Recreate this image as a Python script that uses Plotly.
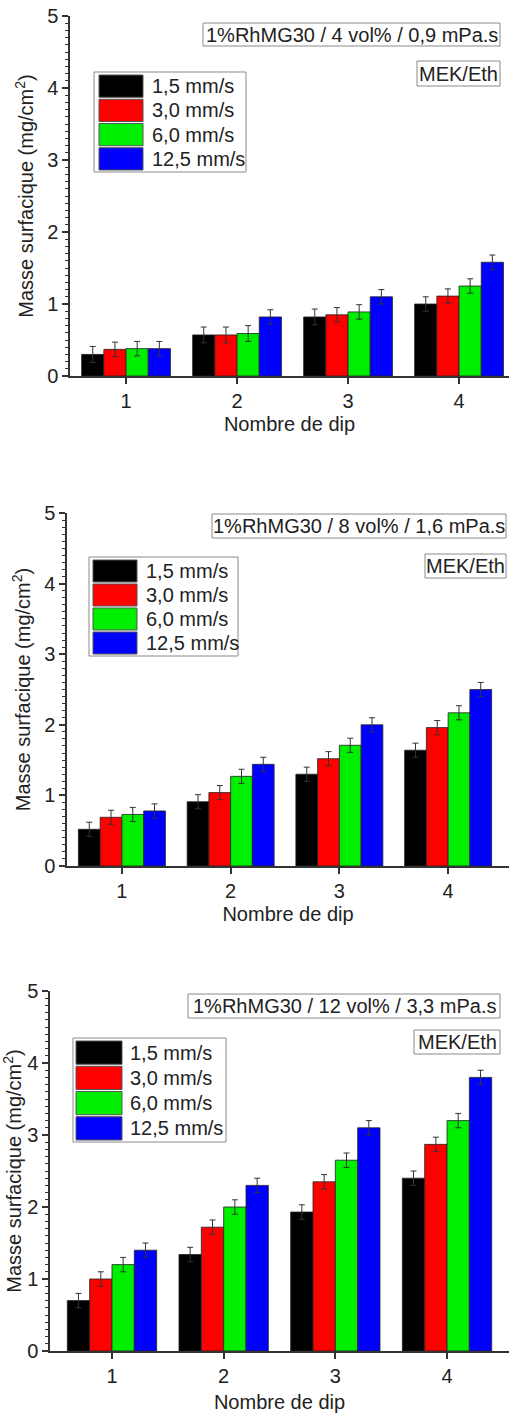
import plotly.graph_objects as go

W, H = 509, 1414
FONT = "Liberation Sans, Arial, sans-serif"
TXT = "#222222"
AX = "#333333"

# ---------------- data ----------------
dips = [1, 2, 3, 4]
speeds = ["1,5 mm/s", "3,0 mm/s", "6,0 mm/s", "12,5 mm/s"]
colors = ["#000000", "#ff0000", "#00ee00", "#0000ff"]

titles = ["1%RhMG30 / 4 vol% / 0,9 mPa.s",
          "1%RhMG30 / 8 vol% / 1,6 mPa.s",
          "1%RhMG30 / 12 vol% / 3,3 mPa.s"]
solvent = "MEK/Eth"

# panel 1 : 4 vol%
p1_v15 = [0.30, 0.57, 0.82, 1.00]
p1_v30 = [0.37, 0.57, 0.85, 1.11]
p1_v60 = [0.38, 0.59, 0.89, 1.25]
p1_v125 = [0.38, 0.82, 1.10, 1.58]
p1_e15 = [0.11, 0.11, 0.11, 0.10]
p1_e30 = [0.10, 0.11, 0.10, 0.10]
p1_e60 = [0.10, 0.11, 0.10, 0.10]
p1_e125 = [0.10, 0.10, 0.10, 0.10]

# panel 2 : 8 vol%
p2_v15 = [0.52, 0.91, 1.30, 1.64]
p2_v30 = [0.69, 1.04, 1.52, 1.96]
p2_v60 = [0.73, 1.27, 1.71, 2.17]
p2_v125 = [0.78, 1.44, 2.00, 2.50]
p2_e15 = [0.10, 0.10, 0.10, 0.10]
p2_e30 = [0.10, 0.10, 0.10, 0.10]
p2_e60 = [0.10, 0.10, 0.10, 0.10]
p2_e125 = [0.10, 0.10, 0.10, 0.10]

# panel 3 : 12 vol%
p3_v15 = [0.70, 1.34, 1.93, 2.40]
p3_v30 = [1.00, 1.72, 2.35, 2.87]
p3_v60 = [1.20, 2.00, 2.65, 3.20]
p3_v125 = [1.40, 2.30, 3.10, 3.80]
p3_e15 = [0.10, 0.10, 0.10, 0.10]
p3_e30 = [0.10, 0.10, 0.10, 0.10]
p3_e60 = [0.10, 0.10, 0.10, 0.10]
p3_e125 = [0.10, 0.10, 0.10, 0.10]

panel_values = [[p1_v15, p1_v30, p1_v60, p1_v125],
                [p2_v15, p2_v30, p2_v60, p2_v125],
                [p3_v15, p3_v30, p3_v60, p3_v125]]
panel_errors = [[p1_e15, p1_e30, p1_e60, p1_e125],
                [p2_e15, p2_e30, p2_e60, p2_e125],
                [p3_e15, p3_e30, p3_e60, p3_e125]]

y_title = "Masse surfacique (mg/cm<sup>2</sup>)"
x_title = "Nombre de dip"

# ---------------- layout geometry (pixels) ----------------
geom = [
    dict(x0=70, x1=509, y0=16, y1=376, xr=[0.495, 4.45], xst=6,
         box1=(203, 500, 23, 46), box2=(417, 500, 61, 86),
         leg=(94, 246, 72, 172), sw=(99, 143), tx=150),
    dict(x0=67, x1=509, y0=513, y1=866, xr=[0.495, 4.56], xst=6,
         box1=(212, 506, 514, 538), box2=(425, 506, 554, 578),
         leg=(89, 238, 557, 656), sw=(93, 137), tx=144),
    dict(x0=50, x1=509, y0=991, y1=1351, xr=[0.445, 4.555], xst=9,
         box1=(188, 500, 994, 1018), box2=(414, 500, 1030, 1054),
         leg=(73, 226, 1038, 1142), sw=(76, 122), tx=128),
]


def fx(p):
    return p / W


def fy(p):
    return 1 - p / H


fig = go.Figure()
shapes = []
annotations = []
layout = {}

for i, g in enumerate(geom):
    k = "" if i == 0 else str(i + 1)
    xa, ya = "x" + k, "y" + k
    for s in range(4):
        fig.add_trace(go.Bar(
            x=dips, y=panel_values[i][s], name=speeds[s],
            marker=dict(color=colors[s], line=dict(color="#222222", width=0.8)),
            error_y=dict(type="data", array=panel_errors[i][s], visible=True,
                         color="#333333", thickness=1, width=3),
            xaxis=xa, yaxis=ya, showlegend=False, offsetgroup=str(s),
        ))
    layout["xaxis" + k] = dict(
        domain=[fx(g["x0"]), fx(g["x1"])], anchor=ya, range=g["xr"],
        automargin=False,
        tickmode="array", tickvals=dips, ticktext=[str(d) for d in dips],
        showline=True, linecolor=AX, linewidth=1.5, ticks="outside",
        ticklen=6, tickcolor=AX, tickwidth=1.5, showgrid=False, zeroline=False,
        tickfont=dict(family=FONT, size=20, color=TXT),
        title=dict(text=x_title, font=dict(family=FONT, size=20, color=TXT),
                   standoff=g["xst"]),
    )
    layout["yaxis" + k] = dict(
        domain=[fy(g["y1"]), fy(g["y0"])], anchor=xa, range=[0, 5],
        automargin=False,
        tickmode="linear", tick0=0, dtick=1,
        showline=True, linecolor=AX, linewidth=1.5, ticks="outside",
        ticklen=6, tickcolor=AX, tickwidth=1.5, showgrid=False, zeroline=False,
        minor=dict(dtick=0.1, ticks="outside", ticklen=3, tickcolor=AX, tickwidth=1),
        tickfont=dict(family=FONT, size=20, color=TXT),
        title=dict(text=y_title, font=dict(family=FONT, size=20, color=TXT), standoff=8),
    )
    # info boxes
    for bx, txt in ((g["box1"], titles[i]), (g["box2"], solvent)):
        shapes.append(dict(type="rect", xref="paper", yref="paper",
                           x0=fx(bx[0]), x1=fx(bx[1]), y0=fy(bx[3]), y1=fy(bx[2]),
                           line=dict(color="#8a8a8a", width=1), fillcolor="white", layer="above"))
        annotations.append(dict(xref="paper", yref="paper",
                                x=fx((bx[0] + bx[1]) / 2), y=fy((bx[2] + bx[3]) / 2),
                                text=txt, showarrow=False, xanchor="center", yanchor="middle",
                                font=dict(family=FONT, size=20, color=TXT)))
    # legend
    lx0, lx1, ly0, ly1 = g["leg"]
    shapes.append(dict(type="rect", xref="paper", yref="paper",
                       x0=fx(lx0), x1=fx(lx1), y0=fy(ly1), y1=fy(ly0),
                       line=dict(color="#8a8a8a", width=1), fillcolor="white", layer="above"))
    rh = (ly1 - ly0 - 3) / 4.0
    for s in range(4):
        r0 = ly0 + 2 + s * rh
        shapes.append(dict(type="rect", xref="paper", yref="paper",
                           x0=fx(g["sw"][0]), x1=fx(g["sw"][1]),
                           y0=fy(r0 + rh - 1), y1=fy(r0 + 1),
                           line=dict(color="#555555", width=1), fillcolor=colors[s],
                           layer="above"))
        annotations.append(dict(xref="paper", yref="paper",
                                x=fx(g["tx"]), y=fy(r0 + rh / 2),
                                text=speeds[s], showarrow=False, xanchor="left",
                                yanchor="middle",
                                font=dict(family=FONT, size=20, color=TXT)))

fig.update_layout(
    width=W, height=H, autosize=False,
    margin=dict(l=0, r=0, t=0, b=0, pad=0, autoexpand=False),
    paper_bgcolor="white", plot_bgcolor="white",
    barmode="group", bargap=0.2, bargroupgap=0,
    shapes=shapes, annotations=annotations,
    font=dict(family=FONT, color=TXT),
    **layout,
)

fig.write_html("out.html", config={"displayModeBar": False})

# remove the browser's default page margin so the figure sits at (0, 0)
with open("out.html", "r", encoding="utf-8") as f:
    html = f.read()
html = html.replace("<head>", "<head><style>html,body{margin:0;padding:0;overflow:hidden;}</style>", 1)
with open("out.html", "w", encoding="utf-8") as f:
    f.write(html)
